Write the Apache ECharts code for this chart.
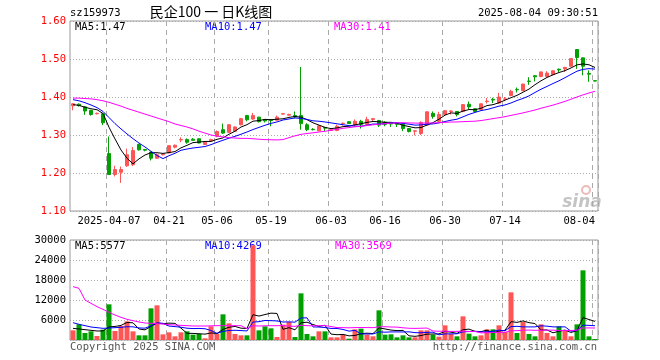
<!DOCTYPE html>
<html><head><meta charset="utf-8">
<script src="https://cdn.jsdelivr.net/npm/echarts@6/dist/echarts.min.js"></script>
<style>html,body{margin:0;padding:0;background:#fff}#c{width:660px;height:360px}</style>
</head><body><div id="c"></div>
<script>
const dates = ['2025-03-27','2025-03-28','2025-03-31','2025-04-01','2025-04-02','2025-04-03','2025-04-07','2025-04-08','2025-04-09','2025-04-10',
'2025-04-11','2025-04-14','2025-04-15','2025-04-16','2025-04-17','2025-04-18','2025-04-21','2025-04-22','2025-04-23','2025-04-24',
'2025-04-25','2025-04-28','2025-04-29','2025-04-30','2025-05-06','2025-05-07','2025-05-08','2025-05-09','2025-05-12','2025-05-13',
'2025-05-14','2025-05-15','2025-05-16','2025-05-19','2025-05-20','2025-05-21','2025-05-22','2025-05-23','2025-05-26','2025-05-27',
'2025-05-28','2025-05-29','2025-05-30','2025-06-03','2025-06-04','2025-06-05','2025-06-06','2025-06-09','2025-06-10','2025-06-11',
'2025-06-12','2025-06-13','2025-06-16','2025-06-17','2025-06-18','2025-06-19','2025-06-20','2025-06-23','2025-06-24','2025-06-25',
'2025-06-26','2025-06-27','2025-06-30','2025-07-01','2025-07-02','2025-07-03','2025-07-04','2025-07-07','2025-07-08','2025-07-09',
'2025-07-10','2025-07-11','2025-07-14','2025-07-15','2025-07-16','2025-07-17','2025-07-18','2025-07-21','2025-07-22','2025-07-23',
'2025-07-24','2025-07-25','2025-07-28','2025-07-29','2025-07-30','2025-07-31','2025-08-01','2025-08-04'];
const tickDates = ['2025-04-07','2025-04-21','2025-05-06','2025-05-19','2025-06-03','2025-06-16','2025-06-30','2025-07-14','2025-08-04'];
const open = [1.377,1.381,1.374,1.365,1.356,1.356,1.251,1.196,1.202,1.219,
1.222,1.275,1.262,1.255,1.239,1.248,1.253,1.268,1.287,1.288,
1.289,1.290,1.275,1.285,1.297,1.314,1.307,1.310,1.327,1.351,
1.342,1.347,1.340,1.340,1.339,1.355,1.352,1.351,1.351,1.327,
1.315,1.311,1.320,1.312,1.312,1.330,1.335,1.327,1.336,1.328,
1.341,1.338,1.334,1.331,1.331,1.328,1.317,1.310,1.304,1.326,
1.357,1.336,1.354,1.362,1.362,1.362,1.381,1.369,1.367,1.388,
1.394,1.384,1.394,1.404,1.420,1.417,1.442,1.456,1.454,1.454,
1.459,1.473,1.474,1.481,1.525,1.503,1.462,1.443];
const close = [1.382,1.377,1.363,1.354,1.357,1.332,1.196,1.209,1.209,1.248,
1.259,1.261,1.260,1.239,1.248,1.250,1.272,1.273,1.288,1.281,
1.286,1.279,1.281,1.288,1.309,1.305,1.327,1.321,1.343,1.340,
1.351,1.335,1.337,1.338,1.347,1.356,1.354,1.348,1.330,1.314,
1.314,1.324,1.318,1.314,1.323,1.331,1.330,1.336,1.328,1.341,
1.343,1.326,1.328,1.329,1.328,1.317,1.309,1.311,1.333,1.361,
1.349,1.354,1.364,1.363,1.354,1.380,1.374,1.362,1.382,1.389,
1.392,1.400,1.395,1.415,1.419,1.434,1.441,1.453,1.466,1.463,
1.469,1.471,1.478,1.501,1.504,1.481,1.460,1.442];
const low = [1.365,1.375,1.353,1.351,1.354,1.326,1.195,1.191,1.174,1.216,
1.218,1.259,1.257,1.233,1.237,1.246,1.252,1.265,1.281,1.277,
1.285,1.278,1.274,1.284,1.294,1.303,1.305,1.309,1.325,1.336,
1.340,1.333,1.333,1.323,1.338,1.354,1.351,1.344,1.314,1.310,
1.312,1.310,1.310,1.311,1.310,1.325,1.329,1.323,1.317,1.325,
1.337,1.321,1.323,1.321,1.321,1.310,1.307,1.299,1.300,1.325,
1.343,1.333,1.352,1.354,1.349,1.360,1.368,1.359,1.365,1.383,
1.384,1.382,1.389,1.402,1.412,1.415,1.432,1.441,1.452,1.452,
1.457,1.465,1.466,1.479,1.474,1.457,1.440,1.441];
const high = [1.384,1.383,1.376,1.366,1.359,1.358,1.296,1.219,1.217,1.264,
1.268,1.277,1.263,1.256,1.251,1.252,1.273,1.275,1.294,1.291,
1.292,1.291,1.282,1.290,1.312,1.330,1.328,1.323,1.345,1.353,
1.358,1.348,1.342,1.342,1.351,1.358,1.356,1.362,1.479,1.331,
1.318,1.326,1.321,1.318,1.327,1.333,1.336,1.341,1.340,1.348,
1.345,1.340,1.336,1.332,1.333,1.330,1.318,1.313,1.336,1.362,
1.362,1.361,1.365,1.365,1.363,1.381,1.388,1.370,1.383,1.397,
1.398,1.411,1.400,1.419,1.425,1.435,1.452,1.457,1.467,1.468,
1.470,1.475,1.479,1.502,1.526,1.504,1.470,1.443];
const ma5 = [1.380,1.378,1.373,1.369,1.3666,1.3566,1.3204,1.2896,1.2606,1.2388,
1.2242,1.2372,1.2474,1.2534,1.2534,1.2516,1.2538,1.2564,1.2662,1.2728,
1.2800,1.2814,1.2830,1.2830,1.2886,1.2924,1.3020,1.3100,1.3210,1.3272,
1.3364,1.3380,1.3412,1.3402,1.3416,1.3426,1.3464,1.3486,1.3470,1.3404,
1.3320,1.3260,1.3200,1.3168,1.3186,1.3220,1.3232,1.3268,1.3296,1.3332,
1.3356,1.3348,1.3332,1.3334,1.3308,1.3256,1.3222,1.3188,1.3196,1.3262,
1.3326,1.3416,1.3522,1.3582,1.3568,1.3630,1.3670,1.3666,1.3704,1.3774,
1.3798,1.3850,1.3916,1.3982,1.4042,1.4126,1.4208,1.4324,1.4426,1.4514,
1.4584,1.4644,1.4694,1.4764,1.4846,1.4870,1.4848,1.4776];
const ma10 = [1.393,1.390,1.385,1.379,1.372,1.362,1.346,1.330,1.316,1.3027,
1.2904,1.2788,1.2685,1.2570,1.2461,1.2379,1.2455,1.2519,1.2598,1.2631,
1.2658,1.2676,1.2697,1.2746,1.2807,1.2862,1.2917,1.2965,1.3020,1.3079,
1.3144,1.3200,1.3256,1.3306,1.3344,1.3395,1.3422,1.3449,1.3436,1.3410,
1.3373,1.3362,1.3343,1.3319,1.3295,1.3270,1.3246,1.3234,1.3232,1.3259,
1.3288,1.3290,1.3300,1.3315,1.3320,1.3306,1.3285,1.3260,1.3265,1.3285,
1.3291,1.3319,1.3355,1.3389,1.3415,1.3478,1.3543,1.3594,1.3643,1.3671,
1.3714,1.3760,1.3791,1.3843,1.3908,1.3962,1.4029,1.4120,1.4204,1.4278,
1.4355,1.4426,1.4509,1.4595,1.4680,1.4727,1.4746,1.4735];
const ma30 = [1.397,1.397,1.396,1.395,1.393,1.390,1.386,1.381,1.376,1.370,
1.365,1.360,1.355,1.350,1.345,1.340,1.335,1.329,1.325,1.321,
1.316,1.310,1.305,1.300,1.297,1.295,1.293,1.292,1.291,1.2912,
1.2902,1.2888,1.2879,1.2874,1.2871,1.2879,1.2931,1.2978,1.3018,1.3040,
1.3058,1.3079,1.3099,1.3124,1.3149,1.3176,1.3195,1.3216,1.3229,1.3249,
1.3268,1.3284,1.3300,1.3313,1.3320,1.3324,1.3318,1.3314,1.3311,1.3318,
1.3317,1.3324,1.3333,1.3341,1.3343,1.3351,1.3358,1.3363,1.3380,1.3405,
1.3431,1.3456,1.3482,1.3516,1.3548,1.3582,1.3619,1.3658,1.3704,1.3745,
1.3787,1.3835,1.3885,1.3942,1.4001,1.4056,1.4106,1.4150];
const volume = [2900,4700,2100,2600,1200,3100,10700,2700,4200,5600,
2600,1400,1400,9500,10400,1700,2300,1100,2300,2600,
1600,1800,500,4100,1800,7700,5000,1800,1400,1400,
28400,2900,4100,3500,900,4600,5400,900,14000,1800,
1100,2600,2600,800,800,1600,400,3200,3400,1600,
1100,8900,1600,1700,800,1400,800,800,2900,2900,
1600,1000,4400,1800,1100,7100,1900,1100,1400,3200,
3200,4400,2400,14300,2100,5400,1800,1100,4700,2100,
1100,4100,2900,1100,4700,20900,1100,300];
const vma5 = [3500,3300,3100,2900,2700,2740,3940,4060,4380,5260,
5160,3300,3040,4100,5060,4880,5060,5000,3560,2000,
1980,1880,1760,2120,1960,3180,3820,4080,3540,3460,
7600,7180,7640,8060,7960,3200,3700,3060,5160,5340,
4640,4080,4420,1780,1580,1680,1240,1360,1880,2040,
1940,3640,3320,2980,2820,2880,1260,1100,1340,1760,
1800,1840,2560,2340,1980,3080,3260,2600,2520,2940,
2160,2660,2920,5500,5280,5720,5200,4940,3020,3020,
2160,2620,2980,2260,2780,6740,6140,5580];
const vma10 = [5200,4700,4300,3900,3700,3500,3600,3700,3800,3980,
3950,3620,3550,4240,5160,5020,4180,4020,3830,3530,
3430,3470,3380,2840,1980,2580,2850,2920,2830,2710,
5390,5500,5860,5800,5710,5400,5440,5350,6610,6650,
3920,3890,3740,3470,3460,3160,2660,2890,1830,1810,
1810,2440,2340,2430,2430,2410,2450,2210,2160,2290,
2340,1550,1830,1840,1870,2440,2550,2580,2430,2460,
2620,2960,2760,4010,4110,3940,3930,3930,4260,4150,
3940,3910,3960,2640,2900,4450,4380,4280];
const vma30 = [16000,15500,12000,11000,10000,9200,8300,7500,6800,6200,
5800,5400,5100,5000,4900,4800,4600,4500,4400,4300,
4200,4200,4200,4250,4300,4300,4300,4300,4300,3407,
4257,4197,4263,4293,4283,4333,4157,4097,4423,4297,
4247,4287,4327,4037,3717,3713,3650,3720,3757,3723,
3707,3943,3980,3900,3867,3657,3517,3483,3533,3583,
2690,2627,2637,2580,2587,2670,2553,2560,2140,2187,
2257,2317,2310,2760,2803,2930,2977,2907,2950,2967,
2967,2807,2850,2830,2960,3610,3620,3597];
const priceTicks = [1.10,1.20,1.30,1.40,1.50,1.60];
const volTicks = [0,6000,12000,18000,24000,30000];
const priceLegend = ['MA5:1.47','MA10:1.47','MA30:1.41'];
const volLegend = ['MA5:5577','MA10:4269','MA30:3569'];

const UP = '#ff5555', DOWN = '#00a000';
const MONO = 'DejaVu Sans Mono';
const chart = echarts.init(document.getElementById('c'), null, {renderer:'canvas'});
const candle = open.map((o,i)=>[o, close[i], low[i], high[i]]);
const volData = volume.map((v,i)=>({value:v, itemStyle:{color: close[i] >= open[i] ? UP : DOWN}}));
const splitV = {show:true, interval:(i)=>tickDates.indexOf(dates[i])>=0, lineStyle:{color:'#aaa', type:[5,4], width:1}};
function txt(x, y, text, fill, opts){
  return {type:'text', x, y, silent:true, style:Object.assign({text, fill, font:'10.5px "'+MONO+'"', align:'left', verticalAlign:'middle'}, opts||{})};
}
const option = {
  animation:false,
  backgroundColor:'#fff',
  grid:[
    {left:70, right:62, top:21, height:190, show:true, borderColor:'#999', borderWidth:1, backgroundColor:'transparent'},
    {left:70, right:62, top:240, height:100, show:true, borderColor:'#999', borderWidth:1, backgroundColor:'transparent'}
  ],
  xAxis:[
    {type:'category', gridIndex:0, data:dates, boundaryGap:true,
     axisLine:{show:false}, axisTick:{show:false},
     axisLabel:{show:true, interval:(i)=>tickDates.indexOf(dates[i])>=0, color:'#000', fontFamily:MONO, fontSize:10.5, margin:5,
       alignMaxLabel:'right',
       formatter:(v)=> v === tickDates[0] ? v : v.slice(5)},
     splitLine:splitV},
    {type:'category', gridIndex:1, data:dates, boundaryGap:true,
     axisLine:{show:false}, axisTick:{show:false}, axisLabel:{show:false},
     splitLine:splitV}
  ],
  yAxis:[
    {type:'value', gridIndex:0, min:priceTicks[0], max:priceTicks[priceTicks.length-1], interval:0.1,
     axisLine:{show:false}, axisTick:{show:false},
     axisLabel:{color:'#ff0000', fontFamily:MONO, fontSize:10.5, margin:4, formatter:(v)=>v.toFixed(2)},
     splitLine:{show:true, lineStyle:{color:'#aaa', type:[1,2]}}},
    {type:'value', gridIndex:1, min:volTicks[0], max:volTicks[volTicks.length-1], interval:6000,
     axisLine:{show:false}, axisTick:{show:false},
     axisLabel:{color:'#000', fontFamily:MONO, fontSize:10.5, margin:4, formatter:(v)=> v===0 ? '' : String(v)},
     splitLine:{show:true, lineStyle:{color:'#aaa', type:[1,2]}}}
  ],
  series:[
    {type:'candlestick', xAxisIndex:0, yAxisIndex:0, data:candle, barWidth:4,
     itemStyle:{color:UP, color0:DOWN, borderColor:UP, borderColor0:DOWN, borderWidth:1}},
    {type:'line', xAxisIndex:0, yAxisIndex:0, data:ma5, symbol:'none', lineStyle:{color:'#000', width:1}, z:3},
    {type:'line', xAxisIndex:0, yAxisIndex:0, data:ma10, symbol:'none', lineStyle:{color:'#0000ff', width:1}, z:3},
    {type:'line', xAxisIndex:0, yAxisIndex:0, data:ma30, symbol:'none', lineStyle:{color:'#ff00ff', width:1}, z:3},
    {type:'bar', xAxisIndex:1, yAxisIndex:1, data:volData, barWidth:5},
    {type:'line', xAxisIndex:1, yAxisIndex:1, data:vma5, symbol:'none', lineStyle:{color:'#000', width:1}, z:3},
    {type:'line', xAxisIndex:1, yAxisIndex:1, data:vma10, symbol:'none', lineStyle:{color:'#0000ff', width:1}, z:3},
    {type:'line', xAxisIndex:1, yAxisIndex:1, data:vma30, symbol:'none', lineStyle:{color:'#ff00ff', width:1}, z:3}
  ],
  graphic:[
    txt(70, 13, 'sz159973', '#000'),
    txt(211, 12, '民企100 一 日K线图', '#000', {font:'14px "Noto Sans CJK SC"', align:'center'}),
    txt(598, 13, '2025-08-04 09:30:51', '#000', {align:'right'}),
    txt(75, 27, priceLegend[0], '#000'),
    txt(205, 27, priceLegend[1], '#0000ff'),
    txt(334, 27, priceLegend[2], '#ff00ff'),
    txt(75, 246, volLegend[0], '#000'),
    txt(205, 246, volLegend[1], '#0000ff'),
    txt(335, 246, volLegend[2], '#ff00ff'),
    txt(70, 347, 'Copyright 2025 SINA.COM', '#555'),
    txt(597, 347, 'http://finance.sina.com.cn', '#555', {align:'right'}),
    {type:'circle', shape:{cx:586, cy:190, r:4}, silent:true, style:{fill:'none', stroke:'#f0b8b8', lineWidth:2}},
    txt(582, 203, 'sina', '#c4c4c4', {font:'italic bold 17px "DejaVu Sans"', align:'center'})
  ]
};
chart.setOption(option);
</script></body></html>
